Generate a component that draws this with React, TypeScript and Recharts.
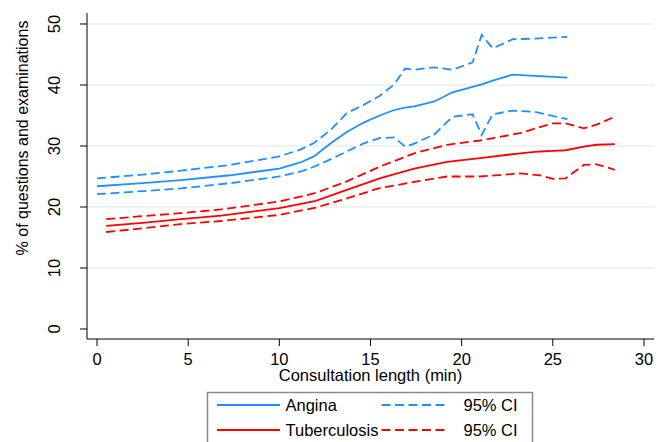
import React from "react";
import { LineChart, Line, XAxis, YAxis, CartesianGrid } from "recharts";

const FONT = "'Liberation Sans', Arial, Helvetica, sans-serif";
const BLUE = "#1E90FF";
const RED = "#FF0000";
const DASH = "9 4.5";

// X ticks / Y ticks
const xTicks = [0, 5, 10, 15, 20, 25, 30];
const yTicks = [0, 10, 20, 30, 40, 50];
const yGrid = [10, 20, 30, 40, 50];

// Angina
const anginaX = [0, 2.5, 4.6, 7.3, 10, 11.15, 11.9, 12.8, 13.7, 14.6, 15.5, 16.3, 16.9, 17.4, 18.5, 19.5, 20.6, 21.1, 21.7, 22.8, 24, 25.8];
const anginaMean = [23.4, 23.9, 24.4, 25.2, 26.3, 27.3, 28.3, 30.4, 32.3, 33.8, 35.0, 35.9, 36.3, 36.5, 37.3, 38.8, 39.7, 40.1, 40.7, 41.7, 41.5, 41.2];
const anginaUpper = [24.7, 25.3, 25.95, 26.9, 28.3, 29.4, 30.5, 32.6, 35.4, 36.7, 38.2, 40.1, 42.7, 42.5, 42.9, 42.5, 43.7, 48.2, 46.0, 47.5, 47.6, 47.9];
const anginaLower = [22.1, 22.6, 23.05, 23.9, 25.0, 25.8, 26.6, 27.8, 29.1, 30.4, 31.3, 31.4, 29.9, 30.4, 31.9, 34.8, 35.2, 31.8, 35.2, 35.8, 35.6, 34.4];

// Tuberculosis
const tbX = [0.5, 2.5, 4.6, 6.8, 10, 12, 13.7, 15.5, 17.4, 19.2, 21, 23.2, 24.3, 25, 25.7, 26.7, 27.4, 28.4];
const tbMean = [16.9, 17.4, 18.0, 18.6, 19.8, 21.0, 22.8, 24.7, 26.3, 27.4, 28.0, 28.8, 29.1, 29.2, 29.3, 29.9, 30.2, 30.3];
const tbUpper = [18.0, 18.5, 19.0, 19.6, 20.9, 22.3, 24.2, 26.6, 28.8, 30.2, 30.9, 32.1, 33.1, 33.7, 33.7, 32.9, 33.5, 34.8];
const tbLower = [15.9, 16.5, 17.2, 17.7, 18.7, 19.9, 21.4, 23.1, 24.1, 25.0, 25.0, 25.5, 25.2, 24.6, 24.7, 26.9, 27.0, 26.1];

const toPts = (xs: number[], ys: number[]) => xs.map((x, i) => ({ x, y: ys[i] }));

const YTick = (props: any) => {
  const { x, y, payload } = props;
  const bx = x - 20;
  return (
    <text x={bx} y={y} transform={`rotate(-90 ${bx} ${y})`} textAnchor="middle" fill="#000" fontSize={16.5} fontFamily={FONT}>
      {payload.value}
    </text>
  );
};

const YLabel = () => (
  <text x={28} y={138} transform="rotate(-90 28 138)" textAnchor="middle" fill="#000" fontSize={16} fontFamily={FONT}>
    % of questions and examinations
  </text>
);

const XLabel = (props: any) => {
  const vb = props.viewBox || { x: 87, y: 339, width: 567 };
  const cx = vb.x + vb.width / 2;
  return (
    <text x={cx} y={vb.y + 42} textAnchor="middle" fill="#000" fontSize={16.5} fontFamily={FONT}>
      Consultation length (min)
    </text>
  );
};

const legendItems = [
  { label: "Angina", color: BLUE },
  { label: "Tuberculosis", color: RED },
];

export default function App() {
  return (
    <div style={{ position: "fixed", left: 0, top: 0, width: 666, height: 442, overflow: "hidden", background: "#fff" }}>
      <LineChart width={666} height={442} margin={{ top: 13, right: 12, bottom: 63, left: 0 }}>
        <CartesianGrid vertical={false} horizontalValues={yGrid} stroke="#E8EEF1" strokeWidth={1.5} />
        <XAxis
          type="number"
          dataKey="x"
          domain={[-0.55, 30.55]}
          ticks={xTicks}
          allowDataOverflow
          height={40}
          tickSize={7}
          tickMargin={7}
          axisLine={{ stroke: "#000" }}
          tickLine={{ stroke: "#000" }}
          tick={{ fill: "#000", fontSize: 16.5, fontFamily: FONT }}
          label={<XLabel />}
        />
        <YAxis
          type="number"
          domain={[-1.64, 51.8]}
          ticks={yTicks}
          allowDataOverflow
          width={87}
          tickSize={7}
          tickMargin={0}
          axisLine={{ stroke: "#000" }}
          tickLine={{ stroke: "#000" }}
          tick={<YTick />}
          label={<YLabel />}
        />
        <Line data={toPts(anginaX, anginaUpper)} dataKey="y" type="linear" stroke={BLUE} strokeWidth={1.8} strokeDasharray={DASH} dot={false} isAnimationActive={false} />
        <Line data={toPts(anginaX, anginaLower)} dataKey="y" type="linear" stroke={BLUE} strokeWidth={1.8} strokeDasharray={DASH} dot={false} isAnimationActive={false} />
        <Line data={toPts(anginaX, anginaMean)} dataKey="y" type="linear" stroke={BLUE} strokeWidth={1.8} dot={false} isAnimationActive={false} />
        <Line data={toPts(tbX, tbUpper)} dataKey="y" type="linear" stroke={RED} strokeWidth={1.8} strokeDasharray={DASH} dot={false} isAnimationActive={false} />
        <Line data={toPts(tbX, tbLower)} dataKey="y" type="linear" stroke={RED} strokeWidth={1.8} strokeDasharray={DASH} dot={false} isAnimationActive={false} />
        <Line data={toPts(tbX, tbMean)} dataKey="y" type="linear" stroke={RED} strokeWidth={1.8} dot={false} isAnimationActive={false} />
      </LineChart>
      <svg style={{ position: "absolute", left: 0, top: 0 }} width={666} height={442}>
        <rect x={207.5} y={392.5} width={325} height={60} fill="#fff" stroke="#8c8c8c" strokeWidth={1.5} />
        {legendItems.map((it, i) => {
          const cy = 405 + i * 25;
          return (
            <g key={it.label}>
              <line x1={217} x2={280} y1={cy} y2={cy} stroke={it.color} strokeWidth={2} />
              <text x={285.5} y={cy + 6} fontSize={16.5} fontFamily={FONT} fill="#000">{it.label}</text>
              <line x1={381.5} x2={445} y1={cy} y2={cy} stroke={it.color} strokeWidth={2} strokeDasharray={DASH} />
              <text x={463.5} y={cy + 6} fontSize={16.5} fontFamily={FONT} fill="#000">95% CI</text>
            </g>
          );
        })}
      </svg>
    </div>
  );
}
